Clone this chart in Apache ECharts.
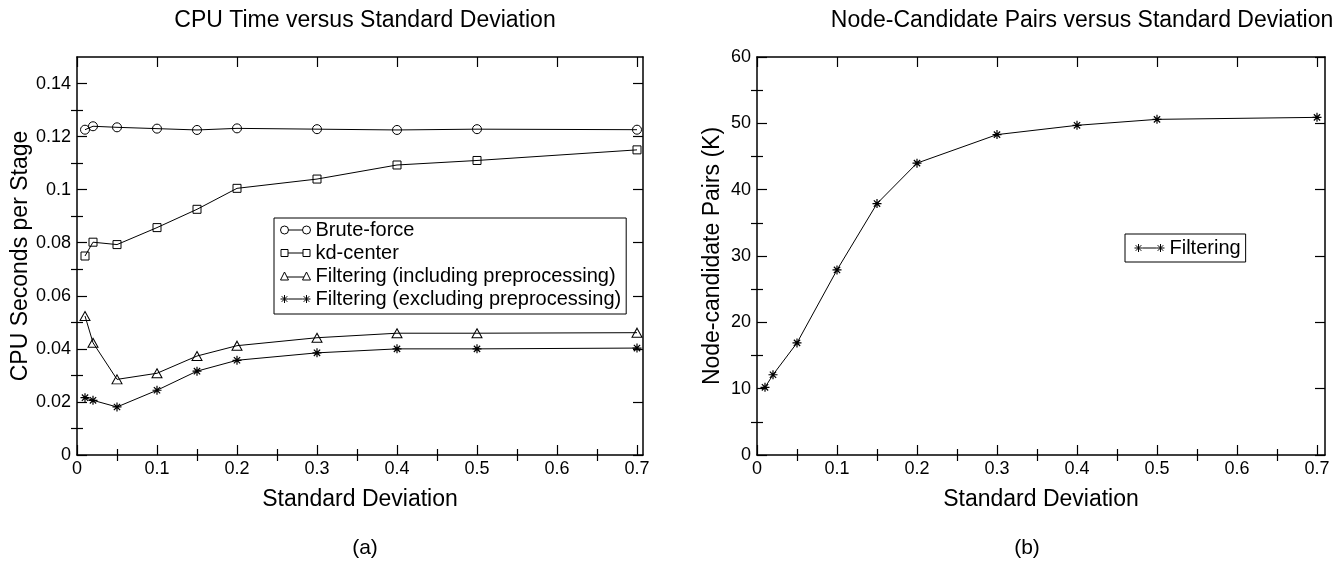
<!DOCTYPE html>
<html>
<head>
<meta charset="utf-8">
<script src="https://cdn.jsdelivr.net/npm/echarts@6/dist/echarts.min.js"></script>
<style>html,body{margin:0;padding:0;background:#fff}#c{width:1340px;height:564px}</style>
</head>
<body>
<div id="c"></div>
<script>
// ---- data ----
const stdDev = [0.01, 0.02, 0.05, 0.1, 0.15, 0.2, 0.3, 0.4, 0.5, 0.7];
const bruteForce = [0.1226, 0.1239, 0.1235, 0.1230, 0.1225, 0.1231, 0.1228, 0.1225, 0.1228, 0.1226];
const kdCenter = [0.0750, 0.0802, 0.0793, 0.0857, 0.0926, 0.1005, 0.1040, 0.1093, 0.1110, 0.1150];
const filterIncl = [0.0524, 0.0423, 0.0285, 0.0308, 0.0373, 0.0412, 0.0442, 0.0459, 0.0459, 0.0461];
const filterExcl = [0.0216, 0.0206, 0.0181, 0.0244, 0.0316, 0.0357, 0.0385, 0.0400, 0.0400, 0.0403];
const nodePairs = [10.2, 12.1, 16.9, 27.9, 37.9, 44.0, 48.3, 49.7, 50.6, 50.9];

const xMajorTicks = [0, 0.1, 0.2, 0.3, 0.4, 0.5, 0.6, 0.7];
const xMinorTicks = [0.05, 0.15, 0.25, 0.35, 0.45, 0.55, 0.65];
const yMajorTicksA = [0, 0.02, 0.04, 0.06, 0.08, 0.1, 0.12, 0.14];
const yMinorTicksA = [0.01, 0.03, 0.05, 0.07, 0.09, 0.11, 0.13];
const yMajorTicksB = [0, 10, 20, 30, 40, 50, 60];
const yMinorTicksB = [5, 15, 25, 35, 45, 55];

const seriesNamesA = ['Brute-force', 'kd-center', 'Filtering (including preprocessing)', 'Filtering (excluding preprocessing)'];
const seriesNameB = 'Filtering';

// ---- styles ----
const FONT = '"Liberation Sans", Arial, Helvetica, sans-serif';
const BLACK = '#000';
const ASTERISK = 'path://M0,4 L8,4 M4,0 L4,8 M1.2,1.2 L6.8,6.8 M6.8,1.2 L1.2,6.8';
const ICON_CIRCLE = 'path://M0,4 A4,4 0 1,1 8,4 A4,4 0 1,1 0,4 Z M8,4 L22,4 M22,4 A4,4 0 1,1 30,4 A4,4 0 1,1 22,4 Z';
const ICON_SQUARE = 'path://M0.5,0.5 L7.5,0.5 L7.5,7.5 L0.5,7.5 Z M7.5,4 L22.5,4 M22.5,0.5 L29.5,0.5 L29.5,7.5 L22.5,7.5 Z M0,0 L0,0 M30,8 L30,8';
const ICON_TRI = 'path://M0,8 L4,0 L8,8 Z M6.5,5 L23.5,5 M22,8 L26,0 L30,8 Z';
const ICON_AST = 'path://M0,4 L8,4 M4,0 L4,8 M1.2,1.2 L6.8,6.8 M6.8,1.2 L1.2,6.8 M8,4 L22,4 M22,4 L30,4 M26,0 L26,8 M23.2,1.2 L28.8,6.8 M28.8,1.2 L23.2,6.8';

const fmt = v => String(+v.toFixed(2));

function axisSet(grid, pos, max, majors, minors, fmtFn, name, nameGap) {
  const isX = pos === 'bottom' || pos === 'top';
  const main = pos === 'bottom' || pos === 'left';
  const base = {
    type: 'value', gridIndex: grid, position: pos, min: 0, max: max,
    splitLine: {show: false}, splitNumber: 1
  };
  const major = Object.assign({}, base, {
    axisLine: {show: true, onZero: false, lineStyle: {color: BLACK, width: 1.5}},
    axisTick: {show: true, inside: true, length: 10, customValues: majors, lineStyle: {color: BLACK, width: 1.2}},
    axisLabel: main ? {show: true, customValues: majors, formatter: fmtFn, color: BLACK,
                       fontFamily: FONT, fontSize: 18, margin: isX ? 5 : 6} : {show: false}
  });
  if (main && name) {
    Object.assign(major, {
      name: name, nameLocation: 'middle', nameGap: nameGap,
      nameTextStyle: {color: BLACK, fontFamily: FONT, fontSize: 23}
    });
  }
  const minor = Object.assign({}, base, {
    axisLine: {show: false},
    axisTick: {show: true, inside: true, length: 6, customValues: minors, lineStyle: {color: BLACK, width: 1.2}},
    axisLabel: {show: false}
  });
  return [major, minor];
}

const grids = [
  {left: 77, top: 57, width: 566, height: 398},
  {left: 757, top: 57, width: 568, height: 398}
];

const xAxes = [].concat(
  axisSet(0, 'bottom', 0.7075, xMajorTicks, xMinorTicks, fmt, 'Standard Deviation', 33),
  axisSet(0, 'top', 0.7075, xMajorTicks, xMinorTicks, fmt),
  axisSet(1, 'bottom', 0.71, xMajorTicks, xMinorTicks, fmt, 'Standard Deviation', 33),
  axisSet(1, 'top', 0.71, xMajorTicks, xMinorTicks, fmt)
);
const yAxes = [].concat(
  axisSet(0, 'left', 0.15, yMajorTicksA, yMinorTicksA, fmt, 'CPU Seconds per Stage', 45),
  axisSet(0, 'right', 0.15, yMajorTicksA, yMinorTicksA, fmt),
  axisSet(1, 'left', 60, yMajorTicksB, yMinorTicksB, v => String(v), 'Node-candidate Pairs (K)', 33),
  axisSet(1, 'right', 60, yMajorTicksB, yMinorTicksB, v => String(v))
);

function lineSeries(name, ys, symbol, size, xi, yi) {
  return {
    name: name, type: 'line', xAxisIndex: xi, yAxisIndex: yi,
    data: stdDev.map((x, i) => [x, ys[i]]),
    symbol: symbol, symbolSize: size, showSymbol: true, showAllSymbol: true,
    lineStyle: {color: BLACK, width: 1},
    itemStyle: {color: 'rgba(0,0,0,0)', borderColor: BLACK, borderWidth: 1},
    emphasis: {disabled: true}, silent: true, z: 3
  };
}

const legendCommon = {
  orient: 'vertical', backgroundColor: '#fff', borderColor: BLACK, borderWidth: 1,
  itemWidth: 30, itemHeight: 8, itemGap: 3, selectedMode: false,
  itemStyle: {color: 'rgba(0,0,0,0)', borderColor: BLACK, borderWidth: 1},
  textStyle: {color: BLACK, fontFamily: FONT, fontSize: 20, lineHeight: 20}
};

const titleStyle = {color: BLACK, fontFamily: FONT, fontSize: 23, fontWeight: 'normal'};
const subStyle = {color: BLACK, fontFamily: FONT, fontSize: 21, fontWeight: 'normal'};
const option = {
  animation: false,
  backgroundColor: '#fff',
  title: [
    {text: 'CPU Time versus Standard Deviation', left: 360, top: 4, textAlign: 'center', textStyle: titleStyle},
    {text: 'Node-Candidate Pairs versus Standard Deviation', left: 1077, top: 4, textAlign: 'center', textStyle: titleStyle},
    {text: '(a)', left: 360, top: 533, textAlign: 'center', textStyle: subStyle},
    {text: '(b)', left: 1022, top: 533, textAlign: 'center', textStyle: subStyle}
  ],
  grid: grids,
  xAxis: xAxes,
  yAxis: yAxes,
  legend: [
    Object.assign({}, legendCommon, {
      left: 274, top: 218, padding: [2, 5, 5, 6],
      data: [
        {name: seriesNamesA[0], icon: ICON_CIRCLE},
        {name: seriesNamesA[1], icon: ICON_SQUARE},
        {name: seriesNamesA[2], icon: ICON_TRI},
        {name: seriesNamesA[3], icon: ICON_AST}
      ]
    }),
    Object.assign({}, legendCommon, {
      left: 1125, top: 234, padding: [4, 5, 4, 9],
      data: [{name: seriesNameB, icon: ICON_AST}]
    })
  ],
  series: [
    lineSeries(seriesNamesA[0], bruteForce, 'circle', 9, 0, 0),
    lineSeries(seriesNamesA[1], kdCenter, 'rect', 8, 0, 0),
    lineSeries(seriesNamesA[2], filterIncl, 'triangle', [10, 9], 0, 0),
    Object.assign(lineSeries(seriesNamesA[3], filterExcl, ASTERISK, 9, 0, 0),
      {itemStyle: {color: BLACK, borderColor: BLACK, borderWidth: 1.2}}),
    Object.assign(lineSeries(seriesNameB, nodePairs, ASTERISK, 9, 4, 4),
      {itemStyle: {color: BLACK, borderColor: BLACK, borderWidth: 1.2}})
  ]
};

const chart = echarts.init(document.getElementById('c'), null, {renderer: 'canvas'});
chart.setOption(option);
</script>
</body>
</html>
